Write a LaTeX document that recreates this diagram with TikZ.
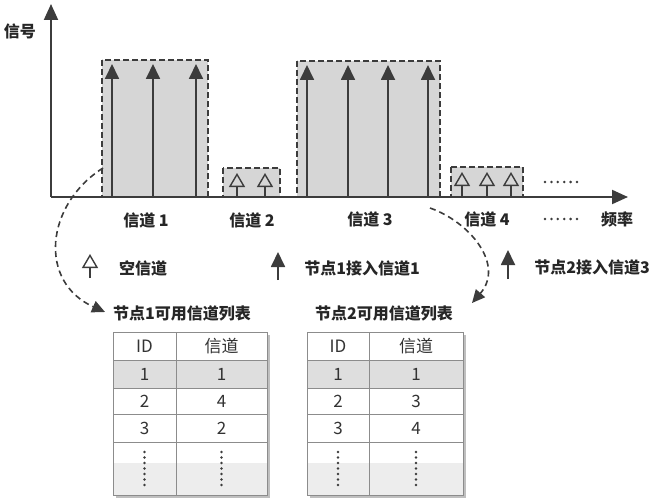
\documentclass[tikz,border=0pt]{standalone}
\usepackage{fontspec}
\setmainfont{Noto Sans CJK SC}
\usetikzlibrary{arrows.meta}
\definecolor{dk}{HTML}{3C3C3C}
\definecolor{boxgray}{HTML}{D6D6D6}
\definecolor{tline}{HTML}{8C8C8C}
\definecolor{rowgray}{HTML}{DEDEDE}
\definecolor{lastgray}{HTML}{EDEDED}
\begin{document}
\begin{tikzpicture}[x=1pt,y=-1pt,
  chbox/.style={fill=boxgray, draw=dk, dash pattern=on 6pt off 3pt, line width=1.3pt},
  sig/.style={draw=dk, line width=1.8pt, -{Triangle[length=15pt,width=14pt,fill=dk]}},
  free/.style={draw=dk, line width=1.4pt, -{Triangle[open,length=14pt,width=16pt]}},
  axisline/.style={draw=dk, line width=2pt, -{Triangle[length=16pt,width=14pt,fill=dk]}},
  lab/.style={font=\fontsize{16}{18}\selectfont\bfseries, text=black!85, inner sep=0pt},
  tt/.style={font=\fontsize{17}{19}\selectfont, text=black!80, inner sep=0pt},
  link/.style={draw=dk, line width=1.6pt, dash pattern=on 6pt off 4pt, -{Triangle[length=13pt,width=12pt,fill=dk]}},
  dotmark/.style={fill=dk, draw=none}
]
\useasboundingbox (0,0) rectangle (653,500);
% channel boxes
\draw[chbox] (102,60) rectangle (208,197);
\draw[chbox] (223,168) rectangle (280,197);
\draw[chbox] (297,61) rectangle (440,197);
\draw[chbox] (451,167) rectangle (523,197);
% signals channel 1
\foreach \x/\n in {112/a,153/b,196/c}{
  \coordinate (s1\n b) at (\x,197); \coordinate (s1\n t) at (\x,64);
  \draw[sig] (s1\n b) -- (s1\n t);}
% channel 3
\foreach \x/\n in {307/a,348/b,388/c,428/d}{
  \coordinate (s3\n b) at (\x,197); \coordinate (s3\n t) at (\x,65);
  \draw[sig] (s3\n b) -- (s3\n t);}
% free channel 2
\foreach \x/\n in {237/a,265/b}{
  \coordinate (f2\n b) at (\x,197); \coordinate (f2\n t) at (\x,173);
  \draw[free] (f2\n b) -- (f2\n t);}
% free channel 4
\foreach \x/\n in {462/a,487/b,511/c}{
  \coordinate (f4\n b) at (\x,197); \coordinate (f4\n t) at (\x,172);
  \draw[free] (f4\n b) -- (f4\n t);}
% axes
\coordinate (O) at (51,197);
\coordinate (Ytop) at (51,4);
\coordinate (Xend) at (628,197);
\draw[axisline] (O) -- (Ytop);
\draw[axisline] (O) -- (Xend);
\node[lab] (ylab) at (20,31) {信号};
\node[lab] (xlab) at (617,219) {频率};
% dots
\foreach \i in {0,...,5}{
  \fill[dotmark] (545+\i*6.4,182) circle (1.4pt);
  \fill[dotmark] (545+\i*6.4,219) circle (1.4pt);}
% channel labels
\node[lab] (c1) at (146,220) {信道 1};
\node[lab] (c2) at (252,220) {信道 2};
\node[lab] (c3) at (370,219) {信道 3};
\node[lab] (c4) at (487,219) {信道 4};
% legend
\coordinate (lg1b) at (90,278); \coordinate (lg1t) at (90,254);
\draw[free] (lg1b) -- (lg1t);
\node[lab] (lg1) at (143,268) {空信道};
\coordinate (lg2b) at (278,280); \coordinate (lg2t) at (278,252);
\draw[sig] (lg2b) -- (lg2t);
\node[lab] (lg2) at (362,268) {节点1接入信道1};
\coordinate (lg3b) at (508,279); \coordinate (lg3t) at (508,250);
\draw[sig] (lg3b) -- (lg3t);
\node[lab] (lg3) at (592,267) {节点2接入信道3};
% table titles
\node[lab] (t1) at (182,313) {节点1可用信道列表};
\node[lab] (t2) at (384,313) {节点2可用信道列表};
% dashed links
\coordinate (l1s) at (103,168); \coordinate (l1e) at (105,312);
\draw[link] (l1s) .. controls (45,205) and (38,282) .. (l1e);
\coordinate (l2s) at (430,208); \coordinate (l2e) at (472,303);
\draw[link] (l2s) .. controls (470,222) and (505,265) .. (l2e);
% tables
\foreach \L/\M/\R/\tag/\a/\b/\c in {113/176/267/A/1/4/2, 307/369/463/B/1/3/4}{
  \fill[black!25] (\L+3,335) rectangle (\R+3,498);
  \fill[white] (\L,332) rectangle (\R,495);
  \fill[rowgray] (\L,360) rectangle (\R,388);
  \fill[lastgray] (\L,463) rectangle (\R,495);
  \draw[tline, line width=1pt] (\L,332) rectangle (\R,495);
  \draw[tline, line width=1pt] (\M,332) -- (\M,495);
  \foreach \y in {360,388,414,442}{\draw[tline, line width=1pt] (\L,\y) -- (\R,\y);}
  \node[tt] (h1\tag) at ({(\L+\M)/2},346) {ID};
  \node[tt] (h2\tag) at ({(\M+\R)/2},346) {信道};
  \node[tt] (r1a\tag) at ({(\L+\M)/2},374) {1};
  \node[tt] (r1b\tag) at ({(\M+\R)/2},374) {\a};
  \node[tt] (r2a\tag) at ({(\L+\M)/2},401) {2};
  \node[tt] (r2b\tag) at ({(\M+\R)/2},401) {\b};
  \node[tt] (r3a\tag) at ({(\L+\M)/2},428) {3};
  \node[tt] (r3b\tag) at ({(\M+\R)/2},428) {\c};
  \foreach \k in {0,...,6}{
    \fill[dotmark] ({(\L+\M)/2},452+\k*5.5) circle (1.3pt);
    \fill[dotmark] ({(\M+\R)/2},452+\k*5.5) circle (1.3pt);}
}
\end{tikzpicture}
\end{document}
